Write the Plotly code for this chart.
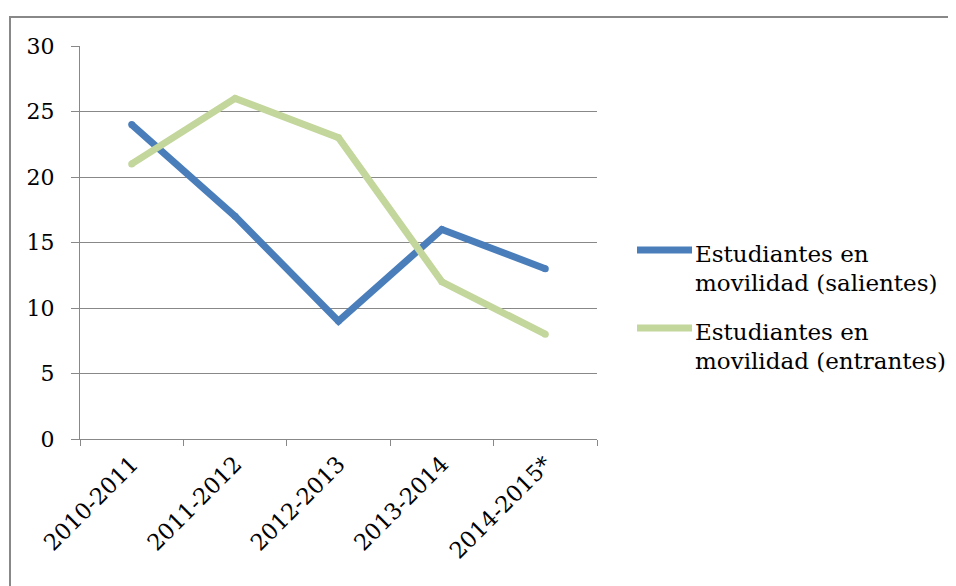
import plotly.graph_objects as go

categories = ["2010-2011", "2011-2012", "2012-2013", "2013-2014", "2014-2015*"]
salientes = [24, 17, 9, 16, 13]
entrantes = [21, 26, 23, 12, 8]
y_ticks = [0, 5, 10, 15, 20, 25, 30]
legend_lines = [["Estudiantes en", "movilidad (salientes)"],
                ["Estudiantes en", "movilidad (entrantes)"]]
colors = ["#4A7EBB", "#C3D69B"]

FONT = "DejaVu Serif"
W, H = 956, 586
OFF = 8  # page body margin
# plot area in page pixels
PL, PR, PT, PB = 80, 597, 46, 439
L, R, T, B = PL - OFF, PR - OFF, PT - OFF, PB - OFF
pw, ph = R - L, B - T

def px(x):  # page x -> paper
    return (x - PL) / pw

def py(y):  # page y -> paper
    return (PB - y) / ph

fig = go.Figure()
for vals, c in zip([salientes, entrantes], colors):
    fig.add_trace(go.Scatter(x=categories, y=vals, mode="lines+markers",
                             line=dict(color=c, width=7),
                             marker=dict(color=c, size=7, line=dict(width=0)),
                             showlegend=False))

fig.update_layout(
    width=W, height=H,
    margin=dict(l=L, r=W - R, t=T, b=H - B, pad=0),
    paper_bgcolor="white", plot_bgcolor="white",
    font=dict(family=FONT, size=22, color="black"),
    xaxis=dict(type="category", range=[-0.5, 4.5], tickson="boundaries",
               ticks="outside", ticklen=6, tickcolor="#888888", tickwidth=1,
               showgrid=False, showline=True, linecolor="#888888", linewidth=1,
               tickangle=-45, ticklabelstandoff=2,
               tickfont=dict(size=22.5, family=FONT)),
    yaxis=dict(range=[0, 30], tickvals=y_ticks, ticks="outside", ticklen=8,
               tickcolor="#888888", showgrid=True, gridcolor="#888888", gridwidth=1,
               showline=True, linecolor="#888888", linewidth=1, zeroline=False,
               ticklabelstandoff=12,
               tickfont=dict(size=22, family=FONT)),
)

# outer border
fig.add_shape(type="rect", xref="paper", yref="paper",
              x0=px(10), x1=px(980), y0=py(640), y1=py(17),
              line=dict(color="#888888", width=2), fillcolor="rgba(0,0,0,0)")

# manual legend
for i, (lines, c) in enumerate(zip(legend_lines, colors)):
    ly = 250 + i * 78
    fig.add_shape(type="line", xref="paper", yref="paper",
                  x0=px(637), x1=px(692), y0=py(ly), y1=py(ly),
                  line=dict(color=c, width=7))
    for j, t in enumerate(lines):
        fig.add_annotation(xref="paper", yref="paper", x=px(693), y=py(ly + 4 + j * 29),
                           xanchor="left", yanchor="middle", align="left", showarrow=False,
                           text=t, font=dict(family=FONT, size=23, color="black"))

fig.write_html("out.html")
